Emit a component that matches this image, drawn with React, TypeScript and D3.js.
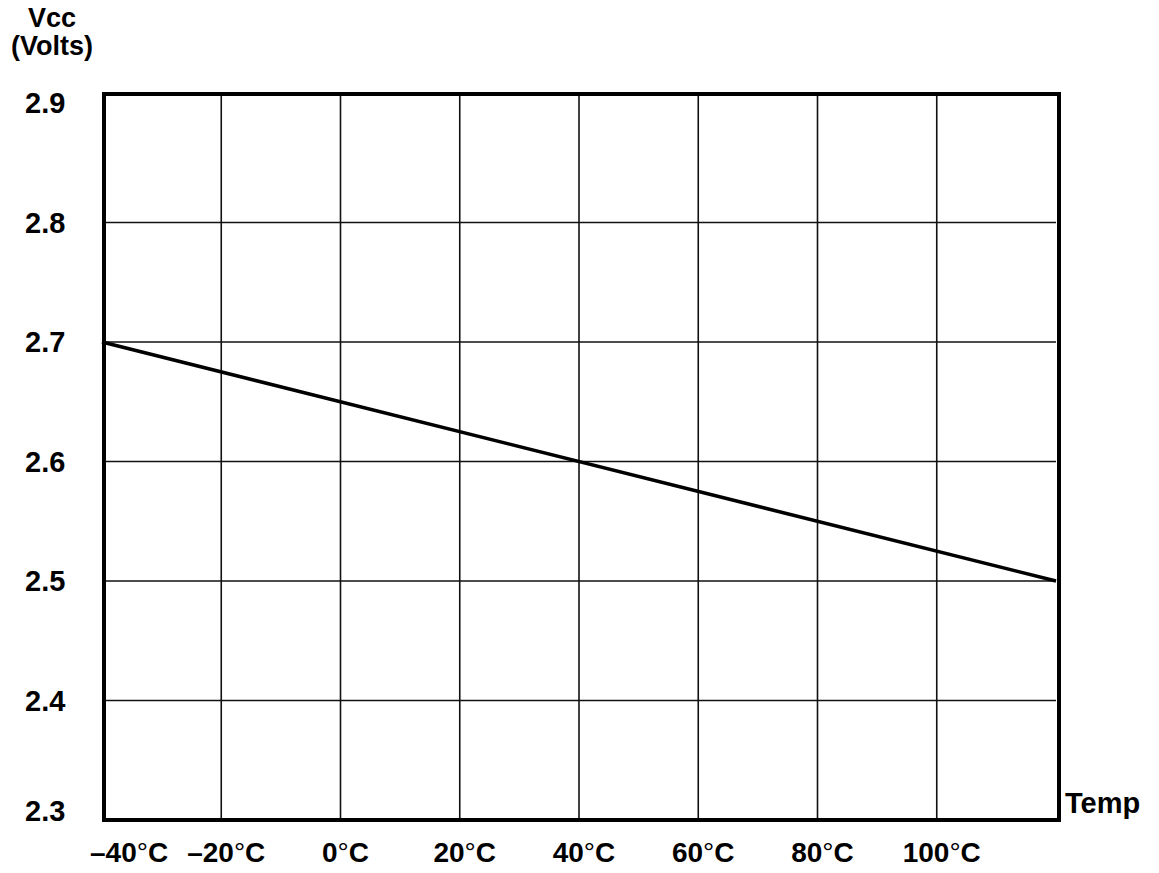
import React from "react";
import * as d3 from "d3";

const temps = [-40, 120];
const vcc = [2.7, 2.5];
const xTicks = [-40, -20, 0, 20, 40, 60, 80, 100];
const xTickLabels = ["–40", "–20", "0", "20", "40", "60", "80", "100"];
const yTicks = [2.3, 2.4, 2.5, 2.6, 2.7, 2.8, 2.9];
const yTickLabels = ["2.3", "2.4", "2.5", "2.6", "2.7", "2.8", "2.9"];

export default function App() {
  const W = 1159, H = 873;
  const x = d3.scaleLinear().domain([-40, 120]).range([102, 1056]);
  const y = d3.scaleLinear().domain([2.3, 2.9]).range([820, 103]);
  const frameTop = y(2.9) - 9;
  const font = "'Liberation Sans', Arial, sans-serif";
  const data = temps.map((t, i) => ({ t, v: vcc[i] }));
  const line = d3.line<{ t: number; v: number }>().x(d => x(d.t)).y(d => y(d.v));
  return (
    <svg width={W} height={H} style={{ position: "absolute", left: 0, top: 0, background: "#fff" }}
      fontFamily={font} fontWeight="bold">
      {/* grid */}
      {xTicks.slice(1).map(t => (
        <line key={"gx" + t} x1={x(t)} x2={x(t)} y1={frameTop} y2={y(2.3)} stroke="#111" strokeWidth={1.6} />
      ))}
      {yTicks.slice(1, -1).map(v => (
        <line key={"gy" + v} x1={x(-40)} x2={x(120)} y1={y(v)} y2={y(v)} stroke="#111" strokeWidth={1.6} />
      ))}
      {/* data line */}
      <path d={line(data) || ""} fill="none" stroke="#000" strokeWidth={3.5} />
      {/* frame */}
      <rect x={x(-40) + 2} y={frameTop} width={x(120) - x(-40) + 1} height={y(2.3) - frameTop}
        fill="none" stroke="#000" strokeWidth={4} />
      {/* y labels */}
      {yTicks.map((v, i) => (
        <text key={"yl" + v} x={25} y={y(v) + (i === 0 ? -9 : 0)} dy="0.36em" fontSize={29} fill="#000">
          {yTickLabels[i]}
        </text>
      ))}
      {/* x labels */}
      {xTicks.map((t, i) => (
        <text key={"xl" + t} x={i === 0 ? 90 : x(t) + 5} y={862} fontSize={28}
          textAnchor={i === 0 ? "start" : "middle"} fill="#000">
          {xTickLabels[i]}
          <tspan fontWeight="normal">°</tspan>C
        </text>
      ))}
      {/* axis titles */}
      <text x={52} y={27} textAnchor="middle" fontSize={27}>Vcc</text>
      <text x={52} y={55} textAnchor="middle" fontSize={27}>(Volts)</text>
      <text x={1065} y={813} fontSize={29}>Temp</text>
    </svg>
  );
}
